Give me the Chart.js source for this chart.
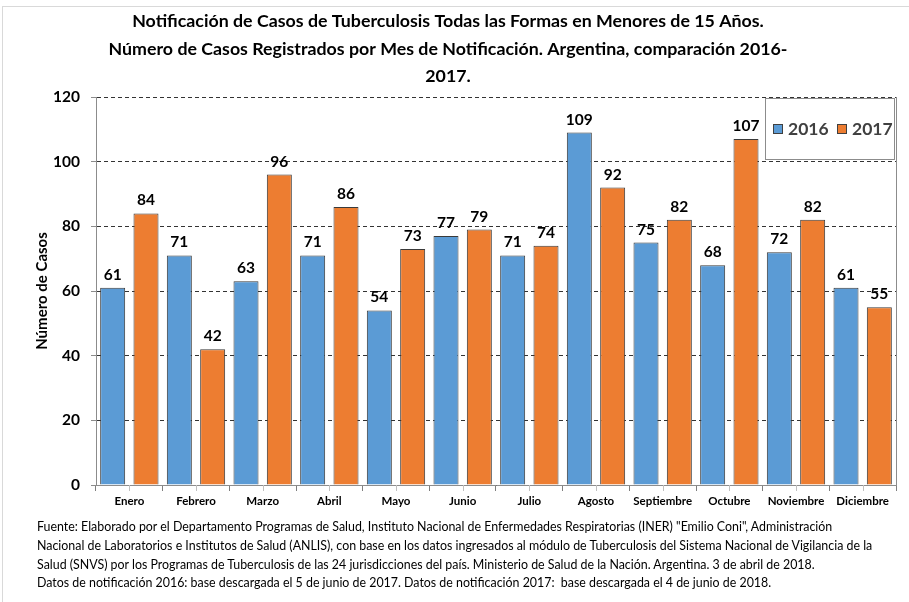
<!DOCTYPE html>
<html>
<head>
<meta charset="utf-8">
<script src="https://cdn.jsdelivr.net/npm/chart.js@4.4.0/dist/chart.umd.min.js"></script>
<style>
  body { margin: 0; background: #fff; }
  #page { position: relative; width: 909px; height: 602px; overflow: hidden; }
  #frame { position: absolute; left: 2px; top: 6px; right: 0; bottom: 0; border-left: 1px solid #d9d9d9; border-top: 1px solid #d9d9d9; }
  #chart-box { position: absolute; left: 0; top: 0; width: 909px; height: 602px; }
  #footer { position: absolute; left: 37px; top: 518px; width: 870px; font-family: Lato, "Open Sans", sans-serif; font-size: 12.4px; line-height: 18.8px; color: #000; white-space: nowrap; }
</style>
</head>
<body>
<div id="page">
  <div id="frame"></div>
  <div id="chart-box"><canvas id="cases-chart"></canvas></div>
  <div id="footer">
    Fuente: Elaborado por el Departamento Programas de Salud, Instituto Nacional de Enfermedades Respiratorias (INER) "Emilio Coni", Administración<br>
    Nacional de Laboratorios e Institutos de Salud (ANLIS), con base en los datos ingresados al módulo de Tuberculosis del Sistema Nacional de Vigilancia de la<br>
    Salud (SNVS) por los Programas de Tuberculosis de las 24 jurisdicciones del país. Ministerio de Salud de la Nación. Argentina. 3 de abril de 2018.<br>
    Datos de notificación 2016: base descargada el 5 de junio de 2017. Datos de notificación 2017:&nbsp; base descargada el 4 de junio de 2018.
  </div>
</div>
<script>
// Data
const months = ["Enero", "Febrero", "Marzo", "Abril", "Mayo", "Junio", "Julio",
  "Agosto", "Septiembre", "Octubre", "Noviembre", "Diciembre"];
const cases2016 = [61, 71, 63, 71, 54, 77, 71, 109, 75, 68, 72, 61];
const cases2017 = [84, 42, 96, 86, 73, 79, 74, 92, 82, 107, 82, 55];
const yTicks = [0, 20, 40, 60, 80, 100, 120];

const titleLines = [
  "Notificación de Casos de Tuberculosis Todas las Formas en Menores de 15 Años.",
  "Número de Casos Registrados por Mes de Notificación. Argentina, comparación 2016-",
  "2017.",
];

const FONT = 'Lato, "Open Sans", sans-serif';
const blue = "#5B9BD5";
const orange = "#ED7D31";

// Value labels above each bar
const barLabels = {
  id: "barLabels",
  afterDatasetsDraw(chart) {
    const ctx = chart.ctx;
    ctx.save();
    ctx.font = `bold 15.5px ${FONT}`;
    ctx.fillStyle = "#000";
    ctx.textAlign = "center";
    ctx.textBaseline = "alphabetic";
    chart.data.datasets.forEach((ds, i) => {
      chart.getDatasetMeta(i).data.forEach((bar, j) => {
        ctx.fillText(ds.data[j], bar.x, bar.y - 8);
      });
    });
    ctx.restore();
  },
};

// Extra bits: right border of the plot, minor x ticks, boxed legend
const extras = {
  id: "extras",
  afterDraw(chart) {
    const ctx = chart.ctx;
    const area = chart.chartArea;
    const x = chart.scales.x;
    ctx.save();

    // right edge of plot area
    ctx.strokeStyle = "#8c8c8c";
    ctx.lineWidth = 1;
    ctx.beginPath();
    ctx.moveTo(Math.round(area.right) + 0.5, area.top);
    ctx.lineTo(Math.round(area.right) + 0.5, area.bottom);
    ctx.stroke();

    // light ticks under each category centre
    ctx.strokeStyle = "#c0c0c0";
    months.forEach((m, i) => {
      const px = Math.round(x.getPixelForValue(i)) + 0.5;
      ctx.beginPath();
      ctx.moveTo(px, area.bottom);
      ctx.lineTo(px, area.bottom + 6);
      ctx.stroke();
    });

    // legend box
    const lx = 765, ly = 98, lw = 129, lh = 61;
    ctx.fillStyle = "#fff";
    ctx.fillRect(lx, ly, lw, lh);
    ctx.strokeStyle = "#8c8c8c";
    ctx.strokeRect(lx + 0.5, ly + 0.5, lw, lh);
    ctx.font = `bold 17.5px ${FONT}`;
    ctx.textBaseline = "middle";
    ctx.textAlign = "left";
    let cx = lx + 8;
    chart.data.datasets.forEach((ds) => {
      ctx.fillStyle = ds.backgroundColor;
      ctx.fillRect(cx, ly + 26, 10, 10);
      ctx.strokeStyle = "#404040";
      ctx.strokeRect(cx + 0.5, ly + 26.5, 9, 9);
      ctx.fillStyle = "#404040";
      ctx.fillText(ds.label, cx + 15, ly + 31);
      cx += 64;
    });
    ctx.restore();
  },
};

const chart = new Chart(document.getElementById("cases-chart").getContext("2d"), {
  type: "bar",
  data: {
    labels: months,
    datasets: [
      { label: "2016", data: cases2016, backgroundColor: blue, borderColor: "#3a3a3a", borderWidth: 1 },
      { label: "2017", data: cases2017, backgroundColor: orange, borderColor: "#3a3a3a", borderWidth: 1 },
    ],
  },
  options: {
    responsive: true,
    maintainAspectRatio: false,
    animation: false,
    categoryPercentage: 1.0,
    barPercentage: 0.75,
    layout: { padding: { left: 0, right: 13, top: 0, bottom: 92 } },
    plugins: {
      legend: { display: false },
      tooltip: { enabled: false },
      title: {
        display: true,
        text: titleLines,
        color: "#000",
        font: { family: FONT, size: 17.8, weight: "bold", lineHeight: 1.545 },
        padding: { top: 8, bottom: 6.5 },
      },
    },
    scales: {
      x: {
        afterFit: (scale) => { scale.height = 25; },
        grid: { drawOnChartArea: false, tickLength: 6, color: "#7f7f7f" },
        border: { color: "#8c8c8c" },
        ticks: { color: "#000", padding: 3, font: { family: FONT, size: 11.5, weight: "bold" } },
      },
      y: {
        min: 0,
        max: 120,
        afterFit: (scale) => { scale.width = 96; },
        afterBuildTicks: (scale) => { scale.ticks = yTicks.map((v) => ({ value: v })); },
        grid: { color: "#333", tickColor: "#8c8c8c", tickLength: 5 },
        border: { color: "#8c8c8c", dash: [4, 3] },
        ticks: { color: "#000", padding: 11, font: { family: FONT, size: 15.5, weight: "bold" } },
        title: {
          display: true,
          text: "Número de Casos",
          color: "#000",
          font: { family: FONT, size: 15, weight: "bold" },
          padding: { top: 33, bottom: 0 },
        },
      },
    },
  },
  plugins: [barLabels, extras],
});
</script>
</body>
</html>
